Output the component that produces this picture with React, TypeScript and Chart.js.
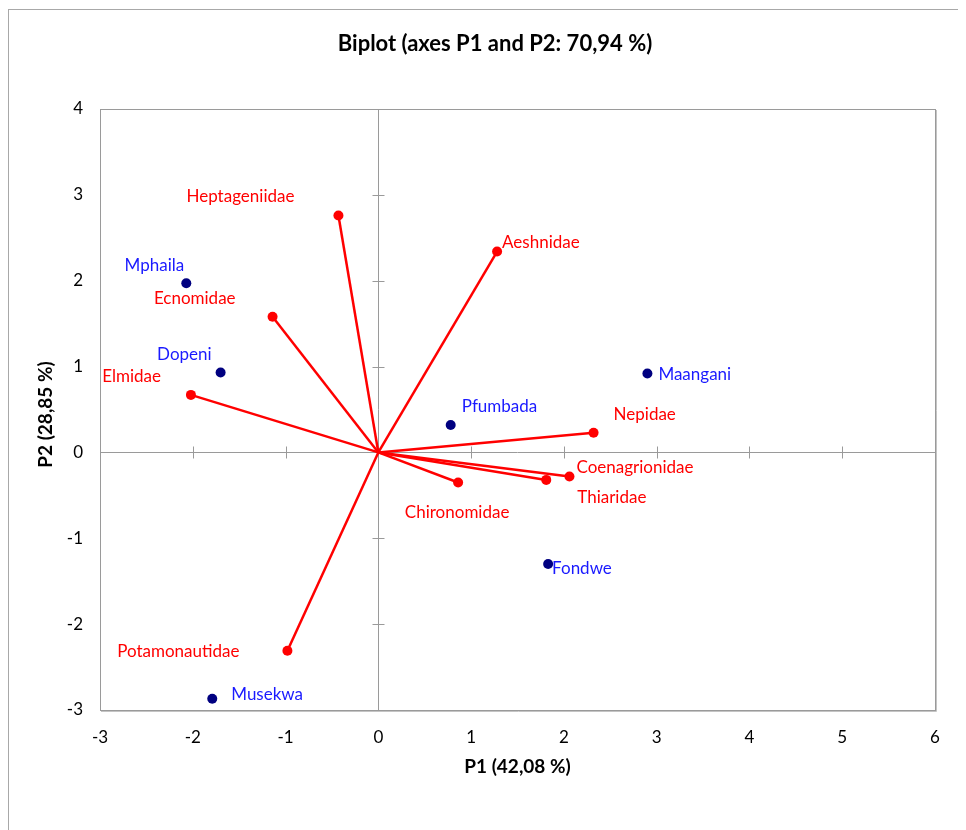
import React, { useEffect, useRef } from "react";
import { Chart, registerables } from "chart.js";

Chart.register(...registerables);

// ---- Data ----
const obsNames = ["Mphaila", "Dopeni", "Pfumbada", "Maangani", "Fondwe", "Musekwa"];
const obsX = [-2.07, -1.70, 0.78, 2.90, 1.83, -1.79];
const obsY = [1.97, 0.93, 0.32, 0.92, -1.30, -2.87];

const varNames = [
  "Heptageniidae",
  "Aeshnidae",
  "Ecnomidae",
  "Elmidae",
  "Nepidae",
  "Coenagrionidae",
  "Thiaridae",
  "Chironomidae",
  "Potamonautidae",
];
const varX = [-0.43, 1.28, -1.14, -2.02, 2.32, 2.06, 1.81, 0.86, -0.98];
const varY = [2.76, 2.34, 1.58, 0.67, 0.23, -0.28, -0.32, -0.35, -2.31];

const xTickValues = [-3, -2, -1, 0, 1, 2, 3, 4, 5, 6];
const yTickValues = [-3, -2, -1, 0, 1, 2, 3, 4];

const titleText = "Biplot (axes P1 and P2: 70,94 %)";
const xTitleText = "P1 (42,08 %)";
const yTitleText = "P2 (28,85 %)";

// ---- Label placement (style: alignment and pixel offsets from the mark) ----
type Place = [CanvasTextAlign, number, number];
const obsLabelPlace: Place[] = [
  ["right", -2, -18],
  ["right", -9, -18],
  ["left", 11, -18],
  ["left", 11, 1],
  ["left", 4, 4],
  ["left", 19, -4],
];
const varLabelPlace: Place[] = [
  ["right", -44, -19],
  ["left", 5, -9],
  ["right", -37, -18],
  ["right", -30, -18],
  ["left", 20, -18],
  ["left", 7, -9],
  ["left", 31, 18],
  ["center", -1, 30],
  ["right", -48, 1],
];

const FONT = "Lato, 'Open Sans', 'Liberation Sans', sans-serif";
const OBS_POINT = "#000080";
const OBS_TEXT = "#1a1aff";
const VAR_COLOR = "#ff0000";
const AXIS_GRAY = "#9a9a9a";

const decorPlugin = {
  id: "biplotDecor",
  beforeDatasetsDraw(chart: any) {
    const { ctx, chartArea, scales } = chart;
    const { left, top, right, bottom } = chartArea;
    const xs = scales.x;
    const ys = scales.y;
    ctx.save();
    // outer frame (left and top edges)
    ctx.fillStyle = "#a8a8a8";
    ctx.fillRect(0, 1, chart.width, 1);
    ctx.fillRect(0, 1, 1, chart.height);

    // plot border
    ctx.strokeStyle = AXIS_GRAY;
    ctx.lineWidth = 1;
    ctx.strokeRect(Math.round(left) + 0.5, Math.round(top) + 0.5, Math.round(right - left), Math.round(bottom - top));
    ctx.strokeStyle = "#c4c4c4";
    ctx.beginPath();
    ctx.moveTo(Math.round(right) + 1.5, Math.round(top) + 1);
    ctx.lineTo(Math.round(right) + 1.5, Math.round(bottom) + 1.5);
    ctx.lineTo(Math.round(left) + 1, Math.round(bottom) + 1.5);
    ctx.stroke();

    // zero axes
    const x0 = Math.round(xs.getPixelForValue(0)) + 0.5;
    const y0 = Math.round(ys.getPixelForValue(0)) + 0.5;
    ctx.strokeStyle = AXIS_GRAY;
    ctx.beginPath();
    ctx.moveTo(left, y0);
    ctx.lineTo(right, y0);
    ctx.moveTo(x0, top);
    ctx.lineTo(x0, bottom);
    // tick crosses on axes
    const tl = 6;
    xTickValues.forEach((v) => {
      if (v === 0) return;
      const px = Math.round(xs.getPixelForValue(v)) + 0.5;
      ctx.moveTo(px, y0 - tl);
      ctx.lineTo(px, y0 + tl);
    });
    yTickValues.forEach((v) => {
      if (v === 0) return;
      const py = Math.round(ys.getPixelForValue(v)) + 0.5;
      ctx.moveTo(x0 - tl, py);
      ctx.lineTo(x0 + tl, py);
    });
    ctx.stroke();
    ctx.restore();
  },
  afterDatasetsDraw(chart: any) {
    const { ctx, scales } = chart;
    const xs = scales.x;
    const ys = scales.y;
    ctx.save();
    ctx.font = `17px ${FONT}`;
    ctx.textBaseline = "middle";
    obsNames.forEach((n, i) => {
      const [al, dx, dy] = obsLabelPlace[i];
      ctx.fillStyle = OBS_TEXT;
      ctx.textAlign = al;
      ctx.fillText(n, xs.getPixelForValue(obsX[i]) + dx, ys.getPixelForValue(obsY[i]) + dy);
    });
    varNames.forEach((n, i) => {
      const [al, dx, dy] = varLabelPlace[i];
      ctx.fillStyle = VAR_COLOR;
      ctx.textAlign = al;
      ctx.fillText(n, xs.getPixelForValue(varX[i]) + dx, ys.getPixelForValue(varY[i]) + dy);
    });
    ctx.restore();
  },
  afterDraw(chart: any) {
    const { ctx, chartArea } = chart;
    ctx.save();
    ctx.fillStyle = "#000";
    ctx.textBaseline = "middle";
    ctx.textAlign = "center";
    ctx.font = `bold 22px ${FONT}`;
    ctx.fillText(titleText, 487, 36);
    ctx.font = `bold 19px ${FONT}`;
    ctx.fillText(xTitleText, (chartArea.left + chartArea.right) / 2, 759);
    ctx.translate(38, (chartArea.top + chartArea.bottom) / 2 + 5);
    ctx.rotate(-Math.PI / 2);
    ctx.fillText(yTitleText, 0, 0);
    ctx.restore();
  },
};

export default function App() {
  const ref = useRef<HTMLCanvasElement | null>(null);
  useEffect(() => {
    if (!ref.current) return;
    const varDatasets = varNames.map((n, i) => ({
      label: n,
      data: [
        { x: 0, y: 0 },
        { x: varX[i], y: varY[i] },
      ],
      showLine: true,
      borderColor: VAR_COLOR,
      borderWidth: 2.5,
      pointRadius: [0, 5],
      pointHoverRadius: [0, 5],
      pointBackgroundColor: VAR_COLOR,
      pointBorderColor: VAR_COLOR,
      pointBorderWidth: 0,
    }));
    const obsDataset = {
      label: "Observations",
      data: obsNames.map((_, i) => ({ x: obsX[i], y: obsY[i] })),
      showLine: false,
      pointRadius: 5,
      pointBackgroundColor: OBS_POINT,
      pointBorderColor: OBS_POINT,
      pointBorderWidth: 0,
    };
    const chart = new Chart(ref.current, {
      type: "scatter",
      data: { datasets: [...varDatasets, obsDataset] as any },
      options: {
        animation: false,
        responsive: false,
        devicePixelRatio: 1,
        layout: { padding: { left: 0, top: 101, right: 31, bottom: 0 } },
        plugins: {
          legend: { display: false },
          title: { display: false },
          tooltip: { enabled: false },
        },
        scales: {
          x: {
            type: "linear",
            min: -3,
            max: 6,
            grid: { display: false, drawTicks: false },
            border: { display: false },
            ticks: {
              stepSize: 1,
              padding: 17,
              color: "#000",
              font: { family: FONT, size: 17 },
              maxRotation: 0,
            },
            afterFit: (s: any) => {
              s.height = 120;
            },
          },
          y: {
            type: "linear",
            min: -3,
            max: 4,
            grid: { display: false, drawTicks: false },
            border: { display: false },
            ticks: {
              stepSize: 1,
              padding: 17,
              color: "#000",
              font: { family: FONT, size: 17 },
            },
            afterFit: (s: any) => {
              s.width = 92;
            },
          },
        },
      } as any,
      plugins: [decorPlugin],
    });
    return () => chart.destroy();
  }, []);
  return <canvas ref={ref} width={958} height={822} style={{ display: "block" }} />;
}
